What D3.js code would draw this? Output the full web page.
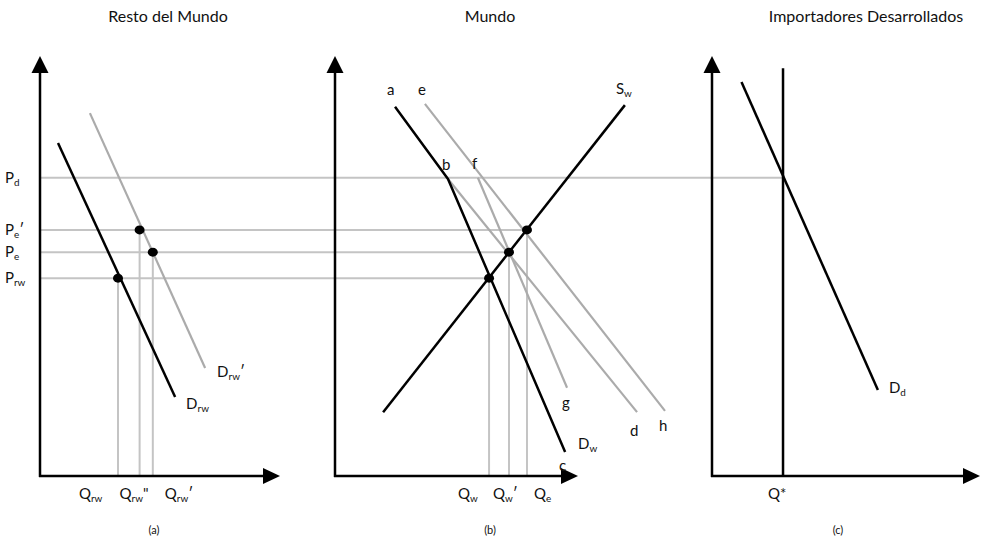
<!DOCTYPE html>
<html>
<head>
<meta charset="utf-8">
<script src="https://cdnjs.cloudflare.com/ajax/libs/d3/7.8.5/d3.min.js"></script>
<style>
  body { margin: 0; background: #fff; }
  svg { display: block; font-family: Lato, "Open Sans", sans-serif; }
</style>
</head>
<body>
<div id="chart"></div>
<script>
// Price levels (common vertical scale, 0-10 units)
const priceNames = ["Pd", "Pe'", "Pe", "Prw"];
const priceValues = [7.10, 5.86, 5.33, 4.71];
const priceSubs = ["d", "e", "e", "rw"];
const pricePrimes = ["", "′", "", ""];

// Panel (a) Resto del Mundo: demand curves [q, p]
const demandRW = [[0.75, 7.93], [5.63, 1.88]];
const demandRW2 = [[2.08, 8.64], [6.88, 2.57]];
const restQty = [3.25, 4.15, 4.70];           // Q_rw, Q_rw'', Q_rw'
const restQtyPrice = [4.71, 5.86, 5.33];      // Prw, Pe', Pe

// Panel (b) Mundo
const demandW = [[2.47, 8.79], [4.65, 7.07], [9.47, 0.57]];  // a - b - c
const supplyW = [[1.98, 1.52], [11.93, 8.83]];
const lineEH = [[3.70, 8.86], [13.58, 1.55]];
const lineFG = [[5.88, 7.10], [9.55, 2.10]];
const lineBD = [[4.65, 7.07], [12.43, 1.52]];
const worldQty = [6.34, 7.16, 7.90];          // Q_w, Q_w', Q_e
const worldQtyPrice = [4.71, 5.33, 5.86];

// Panel (c) Importadores Desarrollados
const demandD = [[1.10, 9.38], [6.19, 2.05]];
const quotaQ = 2.65;
const quotaTop = 9.71;

const width = 984, height = 548;
const svg = d3.select("#chart").append("svg")
  .attr("width", width).attr("height", height);

const y = d3.scaleLinear().domain([0, 10]).range([476, 56]);
const xA = d3.scaleLinear().domain([0, 10]).range([40, 280]);
const xB = d3.scaleLinear().domain([0, 10]).range([335, 578]);
const xC = d3.scaleLinear().domain([0, 10]).range([712, 980]);

const gray = "#ababab";
const grayLight = "#c4c4c4";
const ink = "#111";

function lineGen(x) {
  return d3.line().x(d => x(d[0])).y(d => y(d[1]));
}

function drawCurve(x, pts, color, w) {
  svg.append("path")
    .attr("d", lineGen(x)(pts))
    .attr("fill", "none")
    .attr("stroke", color)
    .attr("stroke-width", w)
    .attr("stroke-linejoin", "round");
}

function label(px, py, main, sub, after, size) {
  size = size || 15;
  const t = svg.append("text")
    .attr("x", px).attr("y", py)
    .style("font-size", size + "px")
    .style("fill", ink);
  t.append("tspan").text(main);
  if (sub) {
    t.append("tspan").attr("dy", 3).style("font-size", (size * 0.66) + "px").text(sub);
  }
  if (after) {
    t.append("tspan").attr("dy", sub ? -3 : 0).text(after);
  }
  return t;
}

// guide lines (drawn first, beneath everything)
// Pd from panel a axis to panel c
svg.append("line")
  .attr("x1", xA(0)).attr("x2", xC(quotaQ))
  .attr("y1", y(priceValues[0])).attr("y2", y(priceValues[0]))
  .attr("stroke", grayLight).attr("stroke-width", 2);

// Pe', Pe, Prw to their points in panel b
worldQty.forEach((q, i) => {
  const p = worldQtyPrice[i];
  svg.append("line")
    .attr("x1", xA(0)).attr("x2", xB(q))
    .attr("y1", y(p)).attr("y2", y(p))
    .attr("stroke", grayLight).attr("stroke-width", 2);
  svg.append("line")
    .attr("x1", xB(q)).attr("x2", xB(q))
    .attr("y1", y(p)).attr("y2", y(0))
    .attr("stroke", grayLight).attr("stroke-width", 2);
});

restQty.forEach((q, i) => {
  svg.append("line")
    .attr("x1", xA(q)).attr("x2", xA(q))
    .attr("y1", y(restQtyPrice[i])).attr("y2", y(0))
    .attr("stroke", grayLight).attr("stroke-width", 2);
});

// Axes with arrowheads
function axes(x) {
  const x0 = x(0), y0 = y(0), yTop = y(10), xEnd = x(10);
  svg.append("line").attr("x1", x0).attr("x2", x0).attr("y1", y0 + 1).attr("y2", yTop + 12)
    .attr("stroke", "#000").attr("stroke-width", 2.5);
  svg.append("line").attr("x1", x0 - 1).attr("x2", xEnd - 12).attr("y1", y0).attr("y2", y0)
    .attr("stroke", "#000").attr("stroke-width", 2.5);
  svg.append("path")
    .attr("d", `M${x0},${yTop} L${x0 - 8.5},${yTop + 17} L${x0 + 8.5},${yTop + 17} Z`)
    .attr("fill", "#000");
  svg.append("path")
    .attr("d", `M${xEnd},${y0} L${xEnd - 17},${y0 - 8} L${xEnd - 17},${y0 + 8} Z`)
    .attr("fill", "#000");
}
axes(xA); axes(xB); axes(xC);

// Panel (a)
drawCurve(xA, demandRW2, gray, 2.2);
drawCurve(xA, demandRW, "#000", 2.5);
restQty.forEach((q, i) => {
  svg.append("ellipse")
    .attr("cx", xA(q)).attr("cy", y(restQtyPrice[i]))
    .attr("rx", 5).attr("ry", 4.5).attr("fill", "#000");
});

// Panel (b)
drawCurve(xB, lineEH, gray, 2.2);
drawCurve(xB, lineFG, gray, 2.2);
drawCurve(xB, lineBD, gray, 2.2);
drawCurve(xB, demandW, "#000", 2.5);
drawCurve(xB, supplyW, "#000", 2.5);
worldQty.forEach((q, i) => {
  svg.append("ellipse")
    .attr("cx", xB(q)).attr("cy", y(worldQtyPrice[i]))
    .attr("rx", 5).attr("ry", 4.5).attr("fill", "#000");
});

// Panel (c)
svg.append("line")
  .attr("x1", xC(quotaQ)).attr("x2", xC(quotaQ))
  .attr("y1", y(quotaTop)).attr("y2", y(0))
  .attr("stroke", "#000").attr("stroke-width", 2.5);
drawCurve(xC, demandD, "#000", 2.5);

// Price labels on the left
priceValues.forEach((p, i) => {
  label(5, y(p) + 5, "P", priceSubs[i], pricePrimes[i]);
});

// Quantity labels
label(xA(restQty[0]) - 39, 499, "Q", "rw", "");
label(xA(restQty[1]) - 20, 499, "Q", "rw", "\"");
label(xA(restQty[2]) + 12, 499, "Q", "rw", "′");
label(xB(worldQty[0]) - 31, 499, "Q", "w", "");
label(xB(worldQty[1]) - 16, 499, "Q", "w", "′");
label(xB(worldQty[2]) + 7, 499, "Q", "e", "");
label(xC(quotaQ) - 15, 499, "Q*", "", "");

// Curve labels
const endA = demandRW[1], endA2 = demandRW2[1];
label(xA(endA[0]) + 11, y(endA[1]) + 12, "D", "rw", "");
label(xA(endA2[0]) + 12, y(endA2[1]) + 9, "D", "rw", "′");

label(xB(demandW[0][0]) - 8, y(demandW[0][1]) - 12, "a", "", "");
label(xB(lineEH[0][0]) - 7, y(lineEH[0][1]) - 9, "e", "", "");
label(xB(supplyW[1][0]) - 9, y(supplyW[1][1]) - 11, "S", "w", "");
label(xB(demandW[1][0]) - 6, y(demandW[1][1]) - 9, "b", "", "");
label(xB(lineFG[0][0]) - 6, y(lineFG[0][1]) - 9, "f", "", "");
label(xB(lineFG[1][0]) - 5, y(lineFG[1][1]) + 20, "g", "", "");
label(xB(lineBD[1][0]) - 7, y(lineBD[1][1]) + 24, "d", "", "");
label(xB(lineEH[1][0]) - 6, y(lineEH[1][1]) + 20, "h", "", "");
label(xB(demandW[2][0]) + 13, y(demandW[2][1]) - 3, "D", "w", "");
label(xB(demandW[2][0]) - 6, y(demandW[2][1]) + 19, "c", "", "");

label(xC(demandD[1][0]) + 11, y(demandD[1][1]) + 3, "D", "d", "");

// Titles
const titles = ["Resto del Mundo", "Mundo", "Importadores Desarrollados"];
const titleX = [168, 490, 866];
titles.forEach((t, i) => {
  svg.append("text").attr("x", titleX[i]).attr("y", 22)
    .attr("text-anchor", "middle")
    .style("font-size", "16px").style("fill", ink).style("font-weight", 400)
    .text(t);
});

const panelTags = ["(a)", "(b)", "(c)"];
const tagX = [154, 490, 838];
panelTags.forEach((t, i) => {
  svg.append("text").attr("x", tagX[i]).attr("y", 534)
    .attr("text-anchor", "middle")
    .style("font-size", "11px").style("fill", ink)
    .text(t);
});
</script>
</body>
</html>
